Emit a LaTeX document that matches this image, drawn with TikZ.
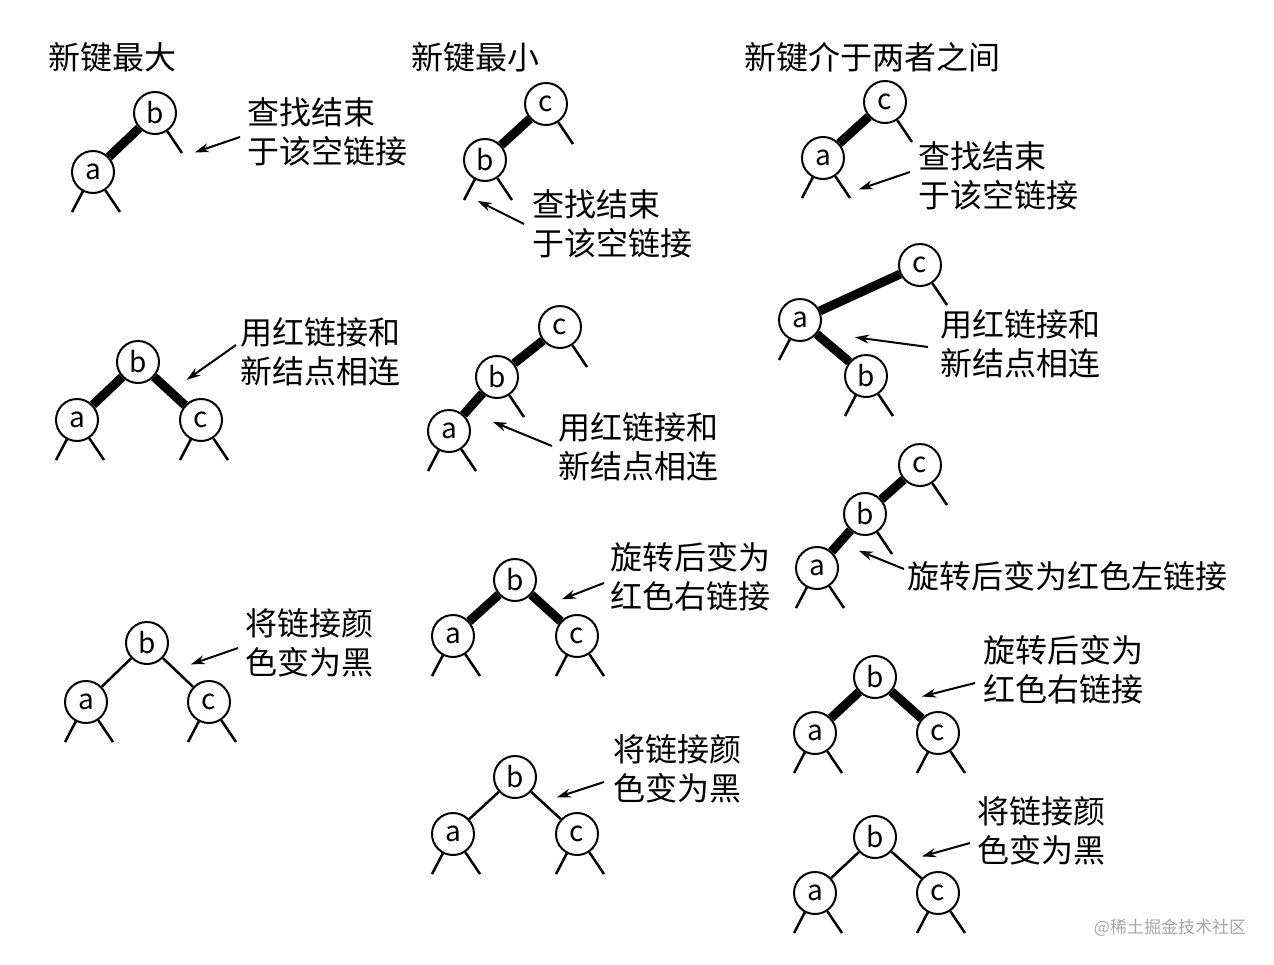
\documentclass[tikz,border=0pt]{standalone}
\usepackage{fontspec}
\setmainfont{Noto Sans CJK SC}
\usetikzlibrary{arrows.meta}
\tikzset{
  key/.style={circle, draw, line width=2pt, minimum size=42pt, inner sep=0pt, fill=white, font=\fontsize{28}{30}\selectfont},
  red/.style={line width=9pt},
  black/.style={line width=2.5pt},
  note/.style={anchor=north west, align=left, inner sep=0pt, font=\fontsize{32}{39}\selectfont},
  title/.style={inner sep=0pt, font=\fontsize{32}{38}\selectfont},
  pointer/.style={line width=2pt, -{Stealth[length=14pt,width=9pt]}, shorten >=2pt}
}
\newcommand{\lstub}[1]{\draw[black] (#1) -- +(-21,40);}
\newcommand{\rstub}[1]{\draw[black] (#1) -- +(27,40);}
\begin{document}
\begin{tikzpicture}[x=1pt,y=-1pt]
  \useasboundingbox (0,0) rectangle (1274,964);

  % column 1
  \node[title] (t1) at (112,57) {新键最大};
  \node[key] (1b) at (155,113) {b};
  \node[key] (1a) at (93,172) {a};
  \draw[red] (1a) -- (1b);
  \rstub{1b} \lstub{1a} \rstub{1a}
  \node[note] (n1) at (247,97) {查找结束\\于该空链接};
  \coordinate (p1) at (193,153);
  \draw[pointer] (240,137) -- (p1);

  \node[key] (2b) at (138,362) {b};
  \node[key] (2a) at (77,420) {a};
  \node[key] (2c) at (201,420) {c};
  \draw[red] (2a) -- (2b) -- (2c);
  \lstub{2a} \rstub{2a} \lstub{2c} \rstub{2c}
  \node[note] (n2) at (240,317) {用红链接和\\新结点相连};
  \coordinate (p2) at (185,381);
  \draw[pointer] (236,345) -- (p2);

  \node[key] (3b) at (147,643) {b};
  \node[key] (3a) at (86,702) {a};
  \node[key] (3c) at (209,702) {c};
  \draw[black] (3a) -- (3b) -- (3c);
  \lstub{3a} \rstub{3a} \lstub{3c} \rstub{3c}
  \node[note] (n3) at (245,608) {将链接颜\\色变为黑};
  \coordinate (p3) at (189,665);
  \draw[pointer] (238,648) -- (p3);

  % column 2
  \node[title] (t2) at (475,57) {新键最小};
  \node[key] (4c) at (546,104) {c};
  \node[key] (4b) at (485,160) {b};
  \draw[red] (4b) -- (4c);
  \rstub{4c} \lstub{4b} \rstub{4b}
  \node[note] (n4) at (532,189) {查找结束\\于该空链接};
  \coordinate (p4) at (476,200);
  \draw[pointer] (524,224) -- (p4);

  \node[key] (5c) at (560,327) {c};
  \node[key] (5b) at (497,377) {b};
  \node[key] (5a) at (449,431) {a};
  \draw[red] (5a) -- (5b) -- (5c);
  \rstub{5c} \rstub{5b} \lstub{5a} \rstub{5a}
  \node[note] (n5) at (558,412) {用红链接和\\新结点相连};
  \coordinate (p5) at (491,421);
  \draw[pointer] (552,446) -- (p5);

  \node[key] (6b) at (515,580) {b};
  \node[key] (6a) at (453,636) {a};
  \node[key] (6c) at (577,636) {c};
  \draw[red] (6a) -- (6b) -- (6c);
  \lstub{6a} \rstub{6a} \lstub{6c} \rstub{6c}
  \node[note] (n6) at (610,542) {旋转后变为\\红色右链接};
  \coordinate (p6) at (560,600);
  \draw[pointer] (604,583) -- (p6);

  \node[key] (7b) at (515,777) {b};
  \node[key] (7a) at (453,834) {a};
  \node[key] (7c) at (577,834) {c};
  \draw[black] (7a) -- (7b) -- (7c);
  \lstub{7a} \rstub{7a} \lstub{7c} \rstub{7c}
  \node[note] (n7) at (613,734) {将链接颜\\色变为黑};
  \coordinate (p7) at (555,798);
  \draw[pointer] (604,782) -- (p7);

  % column 3
  \node[title] (t3) at (872,57) {新键介于两者之间};
  \node[key] (8c) at (885,102) {c};
  \node[key] (8a) at (823,158) {a};
  \draw[red] (8a) -- (8c);
  \rstub{8c} \lstub{8a} \rstub{8a}
  \node[note] (n8) at (918,141) {查找结束\\于该空链接};
  \coordinate (p8) at (857,190);
  \draw[pointer] (910,172) -- (p8);

  \node[key] (9c) at (920,265) {c};
  \node[key] (9a) at (800,320) {a};
  \node[key] (9b) at (866,376) {b};
  \draw[red] (9c) -- (9a) -- (9b);
  \rstub{9c} \lstub{9a} \lstub{9b} \rstub{9b}
  \node[note] (n9) at (940,309) {用红链接和\\新结点相连};
  \coordinate (p9) at (853,337);
  \draw[pointer] (928,347) -- (p9);

  \node[key] (10c) at (920,465) {c};
  \node[key] (10b) at (865,514) {b};
  \node[key] (10a) at (817,568) {a};
  \draw[red] (10a) -- (10b) -- (10c);
  \rstub{10c} \rstub{10b} \lstub{10a} \rstub{10a}
  \node[note] (n10) at (907,561) {旋转后变为红色左链接};
  \coordinate (p10) at (857,550);
  \draw[pointer] (904,569) -- (p10);

  \node[key] (11b) at (875,677) {b};
  \node[key] (11a) at (815,733) {a};
  \node[key] (11c) at (938,733) {c};
  \draw[red] (11a) -- (11b) -- (11c);
  \lstub{11a} \rstub{11a} \lstub{11c} \rstub{11c}
  \node[note] (n11) at (983,635) {旋转后变为\\红色右链接};
  \coordinate (p11) at (920,697);
  \draw[pointer] (975,683) -- (p11);

  \node[key] (12b) at (875,837) {b};
  \node[key] (12a) at (815,893) {a};
  \node[key] (12c) at (938,893) {c};
  \draw[black] (12a) -- (12b) -- (12c);
  \lstub{12a} \rstub{12a} \lstub{12c} \rstub{12c}
  \node[note] (n12) at (977,796) {将链接颜\\色变为黑};
  \coordinate (p12) at (920,857);
  \draw[pointer] (970,843) -- (p12);

  \node[inner sep=0pt, text=gray!70, font=\fontsize{17}{20}\selectfont] (wm) at (1170,928) {@稀土掘金技术社区};
\end{tikzpicture}
\end{document}
